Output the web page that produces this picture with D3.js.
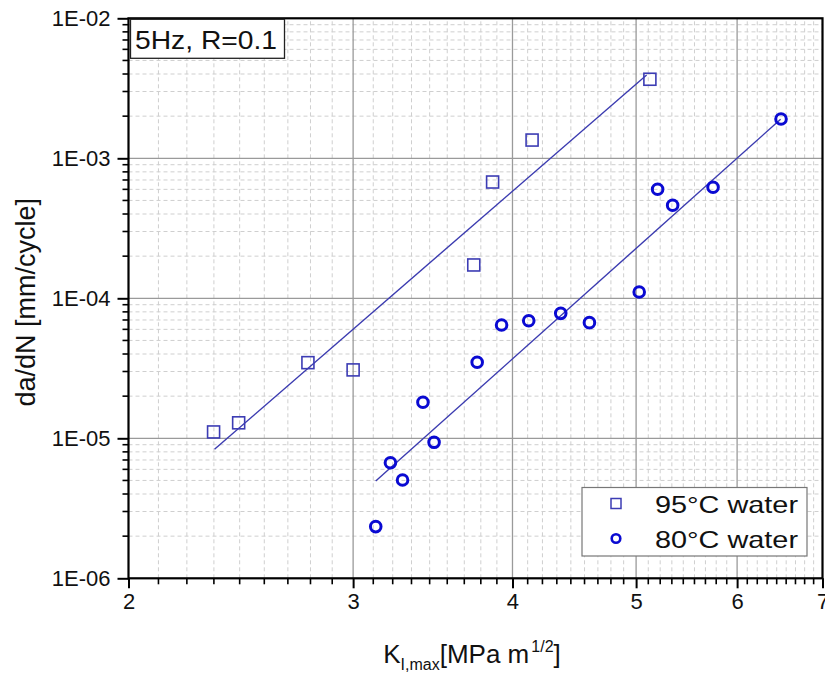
<!DOCTYPE html>
<html>
<head>
<meta charset="utf-8">
<script src="https://cdn.jsdelivr.net/npm/d3@7"></script>
<style>
  body { margin: 0; background: #fff; }
  text { font-family: "Liberation Sans", Arial, sans-serif; }
</style>
</head>
<body>
<div id="chart"></div>
<script>
const width = 825;
const height = 676;

// 95°C water (squares)
const k95 = [2.332, 2.44, 2.765, 3.0, 3.73, 3.859, 4.144, 5.126];
const rate95 = [1.11e-5, 1.29e-5, 3.47e-5, 3.08e-5, 1.73e-4, 6.77e-4, 1.35e-3, 3.67e-3];
// 80°C water (circles)
const k80 = [3.125, 3.209, 3.28, 3.403, 3.472, 3.753, 3.922, 4.119, 4.364, 4.596, 5.028, 5.198, 5.341, 5.745, 6.495];
const rate80 = [2.34e-6, 6.69e-6, 5.04e-6, 1.81e-5, 9.36e-6, 3.49e-5, 6.45e-5, 6.92e-5, 7.81e-5, 6.70e-5, 1.11e-4, 6.01e-4, 4.62e-4, 6.21e-4, 1.91e-3];
// fitted lines (end points)
const fit95K = [2.336, 5.096];
const fit95Rate = [8.34e-6, 3.94e-3];
const fit80K = [3.125, 6.49];
const fit80Rate = [4.95e-6, 1.90e-3];

const xTicks = [2, 3, 4, 5, 6, 7];
const yTicks = [1e-6, 1e-5, 1e-4, 1e-3, 1e-2];
const yTickLabels = ["1E-06", "1E-05", "1E-04", "1E-03", "1E-02"];
const legendLabels = ["95°C water", "80°C water"];

const margin = { left: 128.5, top: 18.3, right: 2.5, bottom: 97.7 };
const x0 = margin.left, x1 = width - margin.right;
const y0 = height - margin.bottom, y1 = margin.top;

const x = d3.scaleLog().domain([2, 7]).range([x0, x1]);
const y = d3.scaleLog().domain([1e-6, 1e-2]).range([y0, y1]);

// minor ticks: 8 evenly spaced between integer majors on x, 2..9 per decade on y
const xMinor = [];
for (let i = 0; i < xTicks.length - 1; i++) {
  for (let k = 1; k <= 8; k++) xMinor.push(xTicks[i] + k / 9);
}
const yMinor = [];
for (let e = -6; e < -2; e++) {
  for (let m = 2; m <= 9; m++) yMinor.push(m * Math.pow(10, e));
}

const svg = d3.select("#chart").append("svg")
    .attr("width", width)
    .attr("height", height);

// minor grid
const grid = svg.append("g");
grid.selectAll(".gxm").data(xMinor).join("line")
    .attr("x1", d => x(d)).attr("x2", d => x(d))
    .attr("y1", y0).attr("y2", y1)
    .attr("stroke", "#cfcfcf").attr("stroke-dasharray", "4,3");
grid.selectAll(".gym").data(yMinor).join("line")
    .attr("class", "gym")
    .attr("y1", d => y(d)).attr("y2", d => y(d))
    .attr("x1", x0).attr("x2", x1)
    .attr("stroke", "#cfcfcf").attr("stroke-dasharray", "4,3");
// major grid
grid.selectAll(".gx").data(xTicks.slice(1, -1)).join("line")
    .attr("class", "gx")
    .attr("x1", d => x(d)).attr("x2", d => x(d))
    .attr("y1", y0).attr("y2", y1)
    .attr("stroke", "#9a9a9a").attr("stroke-width", 1.3);
grid.selectAll(".gy").data(yTicks.slice(1, -1)).join("line")
    .attr("class", "gy")
    .attr("y1", d => y(d)).attr("y2", d => y(d))
    .attr("x1", x0).attr("x2", x1)
    .attr("stroke", "#9a9a9a").attr("stroke-width", 1.3);

// fit lines
const lineColor = "#3b3bb0";
const line = d3.line().x(d => x(d[0])).y(d => y(d[1]));
svg.append("path")
    .attr("d", line(d3.zip(fit95K, fit95Rate)))
    .attr("stroke", lineColor).attr("stroke-width", 1.4).attr("fill", "none");
svg.append("path")
    .attr("d", line(d3.zip(fit80K, fit80Rate)))
    .attr("stroke", lineColor).attr("stroke-width", 1.4).attr("fill", "none");

// points
const squareColor = "#3c3cb4";
const circleColor = "#0a0ad2";
svg.append("g").selectAll("rect")
    .data(d3.zip(k95, rate95))
    .join("rect")
    .attr("x", d => x(d[0]) - 6)
    .attr("y", d => y(d[1]) - 6)
    .attr("width", 12).attr("height", 12)
    .attr("fill", "none").attr("stroke", squareColor).attr("stroke-width", 1.6);
svg.append("g").selectAll("circle")
    .data(d3.zip(k80, rate80))
    .join("circle")
    .attr("cx", d => x(d[0]))
    .attr("cy", d => y(d[1]))
    .attr("r", 5.3)
    .attr("fill", "none").attr("stroke", circleColor).attr("stroke-width", 3);

// axes
const xAxis = svg.append("g").attr("transform", `translate(0,${y0})`)
    .call(d3.axisBottom(x).tickValues(xTicks).tickFormat(d3.format("d")).tickSize(10).tickPadding(5));
xAxis.append("g").selectAll("line").data(xMinor).join("line")
    .attr("x1", d => x(d)).attr("x2", d => x(d))
    .attr("y1", 0).attr("y2", 6).attr("stroke", "#000").attr("stroke-width", 1.6);

const yAxis = svg.append("g").attr("transform", `translate(${x0},0)`)
    .call(d3.axisLeft(y).tickValues(yTicks).tickFormat((d, i) => yTickLabels[i]).tickSize(11).tickPadding(7));
yAxis.append("g").selectAll("line").data(yMinor).join("line")
    .attr("y1", d => y(d)).attr("y2", d => y(d))
    .attr("x1", 0).attr("x2", -6).attr("stroke", "#000").attr("stroke-width", 1.6);

[xAxis, yAxis].forEach(a => {
  a.select(".domain").remove();
  a.selectAll(".tick line").attr("stroke", "#000").attr("stroke-width", 2);
  a.selectAll(".tick text").attr("font-size", 22).attr("fill", "#111")
    .attr("font-family", "'Liberation Sans', Arial, sans-serif");
});

// frame
svg.append("rect")
    .attr("x", x0).attr("y", y1)
    .attr("width", x1 - x0).attr("height", y0 - y1)
    .attr("fill", "none").attr("stroke", "#000").attr("stroke-width", 2.2);

// condition box
svg.append("rect")
    .attr("x", x0 + 2).attr("y", y1 + 1)
    .attr("width", 154).attr("height", 39)
    .attr("fill", "#fff").attr("stroke", "#222").attr("stroke-width", 1.3);
svg.append("text")
    .attr("x", 135).attr("y", 48.5)
    .attr("font-size", 26).attr("fill", "#111")
    .attr("textLength", 142).attr("lengthAdjust", "spacingAndGlyphs")
    .text("5Hz, R=0.1");

// legend
const legend = svg.append("g");
legend.append("rect")
    .attr("x", 582).attr("y", 487.5)
    .attr("width", 225).attr("height", 68.5)
    .attr("fill", "#fff").attr("stroke", "#777").attr("stroke-width", 1.2);
legend.append("rect")
    .attr("x", 611).attr("y", 498.5).attr("width", 10).attr("height", 10)
    .attr("fill", "none").attr("stroke", squareColor).attr("stroke-width", 1.5);
legend.append("circle")
    .attr("cx", 616).attr("cy", 538.5).attr("r", 4.3)
    .attr("fill", "none").attr("stroke", circleColor).attr("stroke-width", 2.6);
legend.selectAll(".lt").data(legendLabels).join("text")
    .attr("class", "lt")
    .attr("x", 655).attr("y", (d, i) => 512.5 + i * 35)
    .attr("font-size", 24).attr("fill", "#111")
    .attr("textLength", 143).attr("lengthAdjust", "spacingAndGlyphs")
    .text(d => d);

// axis titles
const xTitle = svg.append("text")
    .attr("x", 472).attr("y", 663)
    .attr("text-anchor", "middle")
    .attr("font-size", 26).attr("fill", "#111");
xTitle.append("tspan").text("K");
xTitle.append("tspan").attr("font-size", 16).attr("dy", 7).text("I,max");
xTitle.append("tspan").attr("dy", -7).text("[MPa m");
xTitle.append("tspan").attr("font-size", 16).attr("dy", -11).attr("dx", 2).text("1/2");
xTitle.append("tspan").attr("dy", 11).text("]");

svg.append("text")
    .attr("transform", `translate(35,${(y0 + y1) / 2 + 4}) rotate(-90)`)
    .attr("text-anchor", "middle")
    .attr("font-size", 27).attr("fill", "#111")
    .text("da/dN [mm/cycle]");
</script>
</body>
</html>
